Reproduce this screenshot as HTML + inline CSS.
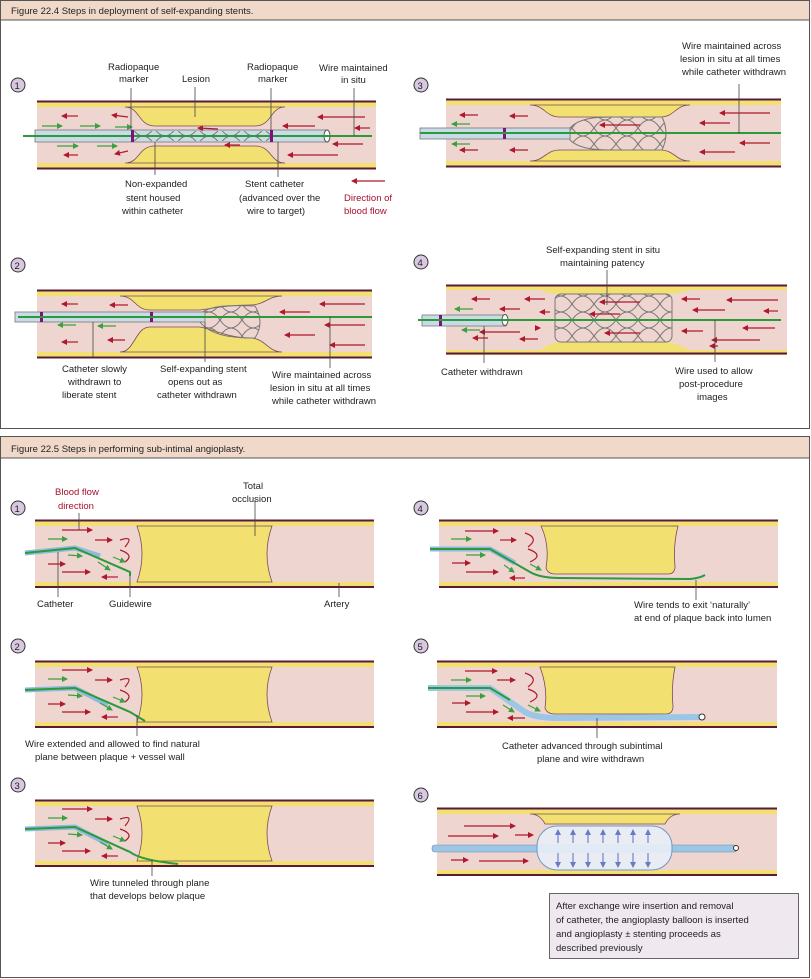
<!DOCTYPE html>
<html><head><meta charset="utf-8"><style>
html,body{margin:0;padding:0;background:#fff}
svg{display:block}
text{font-family:"Liberation Sans",sans-serif;font-size:9.5px;fill:#222}
.r{fill:#a8102c}
</style></head><body>
<svg width="811" height="979" viewBox="0 0 811 979" xmlns="http://www.w3.org/2000/svg">
<defs>
<marker id="ar" markerWidth="6" markerHeight="6" refX="5" refY="3" orient="auto" markerUnits="userSpaceOnUse"><path d="M0,0 L6,3 L0,6 Z" fill="#b0182c"/></marker>
<marker id="ag" markerWidth="6" markerHeight="6" refX="5" refY="3" orient="auto" markerUnits="userSpaceOnUse"><path d="M0,0 L6,3 L0,6 Z" fill="#3aa040"/></marker>
<marker id="ab" markerWidth="6" markerHeight="6" refX="5" refY="3" orient="auto" markerUnits="userSpaceOnUse"><path d="M0,0 L6,3 L0,6 Z" fill="#6a7ac8"/></marker>
<pattern id="mesh" width="22" height="16" patternUnits="userSpaceOnUse"><path d="M0,0 Q11,16 22,0 M0,16 Q11,0 22,16" fill="none" stroke="#777" stroke-width="1"/></pattern>
</defs>

<!-- Figure 22.4 frame -->
<rect x="0.5" y="0.5" width="809" height="428" fill="#fff" stroke="#555"/>
<rect x="1" y="1" width="808" height="19" fill="#f1d9c9"/>
<line x1="0" y1="20" x2="810" y2="20" stroke="#555"/>
<text x="11" y="14" font-size="10.5">Figure 22.4   Steps in deployment of self-expanding stents.</text>

<!-- generic vessel: outer lines + yellow + pink -->
<!-- Panel 1 -->
<g>
<circle cx="18" cy="85" r="7" fill="#d8c8e0" stroke="#333"/><text x="14.5" y="89" font-size="10">1</text>
<rect x="37" y="101" width="339" height="68" fill="#f2e070"/>
<rect x="37" y="107" width="339" height="56" fill="#efd5d0"/>
<line x1="37" y1="101.5" x2="376" y2="101.5" stroke="#5a1a3a" stroke-width="2"/>
<line x1="37" y1="168.5" x2="376" y2="168.5" stroke="#5a1a3a" stroke-width="2"/>
<path d="M125,107 C140,107 138,126 155,126 L255,126 C272,126 270,107 285,107 Z" fill="#f2e070" stroke="#7a4a5a" stroke-width=".8"/>
<path d="M125,163 C140,163 138,146 155,146 L255,146 C272,146 270,163 285,163 Z" fill="#f2e070" stroke="#7a4a5a" stroke-width=".8"/>
<rect x="35" y="130" width="293" height="12" fill="#c9dbe6" stroke="#777" stroke-width=".8"/>
<rect x="133" y="131" width="138" height="10" fill="url(#mesh)"/>
<ellipse cx="327" cy="136" rx="3" ry="6" fill="#fff" stroke="#555"/>
<line x1="23" y1="136" x2="372" y2="136" stroke="#2a9a3a" stroke-width="2"/>
<rect x="131" y="130" width="3" height="12" fill="#80107a"/><rect x="270" y="130" width="3" height="12" fill="#80107a"/>
<g stroke="#b0182c" stroke-width="1.2" marker-end="url(#ar)">
<line x1="78" y1="116" x2="62" y2="116"/><line x1="128" y1="117" x2="112" y2="115"/><line x1="78" y1="155" x2="64" y2="155"/><line x1="128" y1="151" x2="115" y2="154"/>
<line x1="218" y1="129" x2="198" y2="128"/><line x1="240" y1="145" x2="225" y2="145"/>
<line x1="315" y1="126" x2="283" y2="126"/><line x1="365" y1="117" x2="318" y2="117"/><line x1="370" y1="128" x2="355" y2="128"/><line x1="363" y1="144" x2="333" y2="144"/><line x1="338" y1="155" x2="288" y2="155"/>
</g>
<g stroke="#3aa040" stroke-width="1.2" marker-end="url(#ag)">
<line x1="42" y1="126" x2="62" y2="126"/><line x1="80" y1="126" x2="100" y2="126"/><line x1="115" y1="127" x2="132" y2="127"/><line x1="57" y1="146" x2="78" y2="146"/><line x1="97" y1="146" x2="117" y2="146"/>
</g>
<g stroke="#444" stroke-width=".8"><line x1="131" y1="88" x2="131" y2="130"/><line x1="195" y1="87" x2="195" y2="117"/><line x1="271" y1="88" x2="271" y2="130"/><line x1="354" y1="88" x2="354" y2="136"/><line x1="155" y1="142" x2="155" y2="175"/><line x1="278" y1="142" x2="278" y2="177"/></g>
<text x="108" y="70">Radiopaque</text><text x="119" y="82">marker</text>
<text x="182" y="82">Lesion</text>
<text x="247" y="70">Radiopaque</text><text x="258" y="82">marker</text>
<text x="319" y="71">Wire maintained</text><text x="341" y="83">in situ</text>
<text x="125" y="187">Non-expanded</text><text x="126" y="201">stent housed</text><text x="122" y="214">within catheter</text>
<text x="245" y="187">Stent catheter</text><text x="239" y="201">(advanced over the</text><text x="247" y="214">wire to target)</text>
<line x1="385" y1="181" x2="352" y2="181" stroke="#b0182c" stroke-width="1.2" marker-end="url(#ar)"/>
<text x="344" y="201" class="r">Direction of</text><text x="344" y="214" class="r">blood flow</text>
</g>

<!-- Panel 3 -->
<g>
<circle cx="421" cy="85" r="7" fill="#d8c8e0" stroke="#333"/><text x="417.5" y="89" font-size="10">3</text>
<rect x="446" y="99" width="335" height="68" fill="#f2e070"/>
<rect x="446" y="105" width="335" height="56" fill="#efd5d0"/>
<line x1="446" y1="99.5" x2="781" y2="99.5" stroke="#5a1a3a" stroke-width="2"/>
<line x1="446" y1="166.5" x2="781" y2="166.5" stroke="#5a1a3a" stroke-width="2"/>
<path d="M530,105 C545,105 545,117 560,117 L660,117 C675,117 675,105 690,105 Z" fill="#f2e070" stroke="#7a4a5a" stroke-width=".8"/>
<path d="M530,161 C545,161 545,150 560,150 L660,150 C675,150 675,161 690,161 Z" fill="#f2e070" stroke="#7a4a5a" stroke-width=".8"/>
<path d="M570,128 C580,117 600,117 615,117 L662,117 Q670,133 662,150 L615,150 C600,150 580,150 570,140 Z" fill="url(#mesh)" stroke="#777"/>
<rect x="420" y="128" width="150" height="11" fill="#c9dbe6" stroke="#777" stroke-width=".8"/>
<rect x="503" y="128" width="3" height="11" fill="#80107a"/>
<line x1="420" y1="133" x2="781" y2="133" stroke="#2a9a3a" stroke-width="2"/>
<g stroke="#b0182c" stroke-width="1.2" marker-end="url(#ar)">
<line x1="478" y1="115" x2="460" y2="115"/><line x1="528" y1="116" x2="510" y2="116"/><line x1="478" y1="150" x2="460" y2="150"/><line x1="528" y1="150" x2="510" y2="150"/>
<line x1="770" y1="113" x2="720" y2="113"/><line x1="730" y1="123" x2="700" y2="123"/><line x1="770" y1="143" x2="740" y2="143"/><line x1="735" y1="152" x2="700" y2="152"/><line x1="640" y1="125" x2="600" y2="125"/>
</g>
<g stroke="#3aa040" stroke-width="1.2" marker-end="url(#ag)"><line x1="470" y1="124" x2="452" y2="124"/><line x1="470" y1="144" x2="452" y2="144"/></g>
<line x1="739" y1="84" x2="739" y2="133" stroke="#444" stroke-width=".8"/>
<text x="682" y="49">Wire maintained across</text><text x="680" y="62">lesion in situ at all times</text><text x="682" y="75">while catheter withdrawn</text>
</g>

<!-- Panel 2 -->
<g>
<circle cx="18" cy="265" r="7" fill="#d8c8e0" stroke="#333"/><text x="14.5" y="269" font-size="10">2</text>
<rect x="37" y="290" width="335" height="68" fill="#f2e070"/>
<rect x="37" y="296" width="335" height="56" fill="#efd5d0"/>
<line x1="37" y1="290.5" x2="372" y2="290.5" stroke="#5a1a3a" stroke-width="2"/>
<line x1="37" y1="357.5" x2="372" y2="357.5" stroke="#5a1a3a" stroke-width="2"/>
<path d="M120,296 C135,296 135,310 150,310 L200,310 C215,308 230,305 250,305 C265,305 268,296 282,296 Z" fill="#f2e070" stroke="#7a4a5a" stroke-width=".8"/>
<path d="M120,352 C135,352 135,327 150,327 L200,327 C215,330 230,338 250,338 C265,338 268,352 282,352 Z" fill="#f2e070" stroke="#7a4a5a" stroke-width=".8"/>
<path d="M200,314 C210,305 230,305 255,306 Q265,322 255,338 C230,338 210,335 200,322 Z" fill="url(#mesh)" stroke="#777"/>
<rect x="15" y="312" width="190" height="10" fill="#c9dbe6" stroke="#777" stroke-width=".8"/>
<rect x="40" y="312" width="3" height="10" fill="#80107a"/><rect x="150" y="312" width="3" height="10" fill="#80107a"/>
<line x1="18" y1="317" x2="372" y2="317" stroke="#2a9a3a" stroke-width="2"/>
<g stroke="#b0182c" stroke-width="1.2" marker-end="url(#ar)">
<line x1="78" y1="304" x2="62" y2="304"/><line x1="128" y1="305" x2="110" y2="305"/><line x1="78" y1="342" x2="62" y2="342"/><line x1="125" y1="340" x2="108" y2="340"/>
<line x1="365" y1="304" x2="320" y2="304"/><line x1="310" y1="312" x2="280" y2="312"/><line x1="365" y1="325" x2="325" y2="325"/><line x1="315" y1="335" x2="285" y2="335"/><line x1="365" y1="345" x2="330" y2="345"/>
</g>
<g stroke="#3aa040" stroke-width="1.2" marker-end="url(#ag)"><line x1="76" y1="325" x2="58" y2="325"/><line x1="116" y1="326" x2="98" y2="326"/></g>
<g stroke="#444" stroke-width=".8"><line x1="93" y1="322" x2="93" y2="358"/><line x1="205" y1="322" x2="205" y2="362"/><line x1="330" y1="317" x2="330" y2="368"/></g>
<text x="62" y="372">Catheter slowly</text><text x="68" y="385">withdrawn to</text><text x="62" y="398">liberate stent</text>
<text x="160" y="372">Self-expanding stent</text><text x="168" y="385">opens out as</text><text x="157" y="398">catheter withdrawn</text>
<text x="272" y="378">Wire maintained across</text><text x="270" y="391">lesion in situ at all times</text><text x="272" y="404">while catheter withdrawn</text>
</g>

<!-- Panel 4 -->
<g>
<circle cx="421" cy="262" r="7" fill="#d8c8e0" stroke="#333"/><text x="417.5" y="266" font-size="10">4</text>
<rect x="446" y="285" width="341" height="70" fill="#f2e070"/>
<rect x="446" y="290" width="341" height="60" fill="#efd5d0"/>
<line x1="446" y1="285.5" x2="787" y2="285.5" stroke="#5a1a3a" stroke-width="2"/>
<line x1="446" y1="353.5" x2="787" y2="353.5" stroke="#5a1a3a" stroke-width="2"/>
<path d="M540,290 Q550,294 560,294 L665,294 Q676,294 690,290 Z" fill="#f2e070"/>
<path d="M540,350 Q550,343 560,342 L665,342 Q676,343 690,350 Z" fill="#f2e070"/>
<rect x="555" y="294" width="117" height="48" rx="6" fill="url(#mesh)" stroke="#777"/>
<rect x="422" y="315" width="84" height="11" fill="#c9dbe6" stroke="#777" stroke-width=".8"/>
<rect x="439" y="315" width="3" height="11" fill="#80107a"/>
<ellipse cx="505" cy="320" rx="3" ry="5.5" fill="#fff" stroke="#555"/>
<line x1="418" y1="320" x2="781" y2="320" stroke="#2a9a3a" stroke-width="2"/>
<g stroke="#b0182c" stroke-width="1.2" marker-end="url(#ar)">
<line x1="490" y1="299" x2="472" y2="299"/><line x1="545" y1="299" x2="525" y2="299"/><line x1="520" y1="309" x2="500" y2="309"/><line x1="550" y1="312" x2="540" y2="312"/><line x1="520" y1="332" x2="480" y2="332"/><line x1="538" y1="328" x2="540" y2="328"/><line x1="488" y1="338" x2="473" y2="338"/><line x1="538" y1="339" x2="520" y2="339"/>
<line x1="640" y1="302" x2="600" y2="302"/><line x1="620" y1="314" x2="590" y2="314"/><line x1="640" y1="333" x2="605" y2="333"/>
<line x1="700" y1="299" x2="682" y2="299"/><line x1="778" y1="300" x2="727" y2="300"/><line x1="725" y1="310" x2="693" y2="310"/><line x1="778" y1="311" x2="764" y2="311"/><line x1="775" y1="328" x2="743" y2="328"/><line x1="703" y1="331" x2="682" y2="331"/><line x1="760" y1="340" x2="712" y2="340"/><line x1="718" y1="346" x2="710" y2="346"/>
</g>
<g stroke="#3aa040" stroke-width="1.2" marker-end="url(#ag)"><line x1="473" y1="309" x2="455" y2="309"/><line x1="480" y1="330" x2="462" y2="330"/></g>
<g stroke="#444" stroke-width=".8"><line x1="607" y1="270" x2="607" y2="305"/><line x1="484" y1="326" x2="484" y2="363"/><line x1="715" y1="320" x2="715" y2="362"/></g>
<text x="546" y="253">Self-expanding stent in situ</text><text x="560" y="266">maintaining  patency</text>
<text x="441" y="375">Catheter withdrawn</text>
<text x="675" y="374">Wire used to allow</text><text x="679" y="387">post-procedure</text><text x="697" y="400">images</text>
</g>

<!-- Figure 22.5 frame -->
<rect x="0.5" y="436.5" width="809" height="541" fill="#fff" stroke="#555"/>
<rect x="1" y="437" width="808" height="21" fill="#f1d9c9"/>
<line x1="0" y1="458" x2="810" y2="458" stroke="#555"/>
<text x="11" y="452" font-size="10.5">Figure 22.5   Steps in performing sub-intimal angioplasty.</text>

<!-- helper vessels for 22.5 -->
<g id="v1">
<rect x="35" y="520" width="339" height="68" fill="#f2e070"/>
<rect x="35" y="526" width="339" height="56" fill="#efd5d0"/>
<line x1="35" y1="520.5" x2="374" y2="520.5" stroke="#5a1a3a" stroke-width="2"/>
<line x1="35" y1="587" x2="374" y2="587" stroke="#5a1a3a" stroke-width="2"/>
<path d="M137,526 Q147,554 137,582 L272,582 Q262,554 272,526 Z" fill="#f2e070" stroke="#7a4a5a" stroke-width=".8"/>
</g>
<g>
<circle cx="18" cy="508" r="7" fill="#d8c8e0" stroke="#333"/><text x="14.5" y="512" font-size="10">1</text>
<path d="M25,553 L75,548 L100,556" fill="none" stroke="#8fb9de" stroke-width="5"/>
<path d="M25,553 L75,548 L130,572 L130,576" fill="none" stroke="#2a9a3a" stroke-width="2"/>
<g stroke="#b0182c" stroke-width="1.2" marker-end="url(#ar)"><line x1="62" y1="530" x2="92" y2="530"/><line x1="95" y1="540" x2="112" y2="540"/><line x1="48" y1="564" x2="65" y2="564"/><line x1="62" y1="572" x2="90" y2="572"/><line x1="118" y1="577" x2="102" y2="577"/></g>
<path d="M120,540 Q135,535 125,547 M120,550 Q135,555 125,562" fill="none" stroke="#b0182c" stroke-width="1.2"/>
<g stroke="#3aa040" stroke-width="1.2" marker-end="url(#ag)"><line x1="48" y1="539" x2="67" y2="539"/><line x1="68" y1="555" x2="82" y2="556"/><line x1="98" y1="562" x2="110" y2="570"/><line x1="113" y1="557" x2="125" y2="562"/></g>
<g stroke="#444" stroke-width=".8"><line x1="79" y1="513" x2="79" y2="530"/><line x1="58" y1="552" x2="58" y2="597"/><line x1="130" y1="576" x2="130" y2="597"/><line x1="255" y1="500" x2="255" y2="536"/><line x1="339" y1="583" x2="339" y2="597"/></g>
<text x="55" y="495" class="r" font-size="10.5">Blood flow</text><text x="58" y="509" class="r" font-size="10.5">direction</text>
<text x="243" y="489">Total</text><text x="232" y="502">occlusion</text>
<text x="37" y="607">Catheter</text><text x="109" y="607">Guidewire</text><text x="324" y="607">Artery</text>
</g>

<!-- Panel 2 -->
<g>
<circle cx="18" cy="646" r="7" fill="#d8c8e0" stroke="#333"/><text x="14.5" y="650" font-size="10">2</text>
<rect x="35" y="661" width="339" height="67" fill="#f2e070"/>
<rect x="35" y="667" width="339" height="55" fill="#efd5d0"/>
<line x1="35" y1="661.5" x2="374" y2="661.5" stroke="#5a1a3a" stroke-width="2"/>
<line x1="35" y1="727" x2="374" y2="727" stroke="#5a1a3a" stroke-width="2"/>
<path d="M137,667 Q147,694 137,722 L272,722 Q262,694 272,667 Z" fill="#f2e070" stroke="#7a4a5a" stroke-width=".8"/>
<path d="M25,690 L75,688 L108,705" fill="none" stroke="#8fb9de" stroke-width="5"/>
<path d="M25,690 L75,688 L130,712 L145,721" fill="none" stroke="#2a9a3a" stroke-width="2"/>
<g stroke="#b0182c" stroke-width="1.2" marker-end="url(#ar)"><line x1="62" y1="670" x2="92" y2="670"/><line x1="95" y1="680" x2="112" y2="680"/><line x1="48" y1="704" x2="65" y2="704"/><line x1="62" y1="712" x2="90" y2="712"/><line x1="118" y1="717" x2="102" y2="717"/></g>
<path d="M120,680 Q135,675 125,687 M120,690 Q135,695 125,702" fill="none" stroke="#b0182c" stroke-width="1.2"/>
<g stroke="#3aa040" stroke-width="1.2" marker-end="url(#ag)"><line x1="48" y1="679" x2="67" y2="679"/><line x1="68" y1="695" x2="82" y2="696"/><line x1="100" y1="703" x2="112" y2="710"/><line x1="113" y1="697" x2="125" y2="702"/></g>
<line x1="137" y1="715" x2="137" y2="736" stroke="#444" stroke-width=".8"/>
<text x="25" y="747">Wire extended and allowed to find natural</text><text x="35" y="760">plane between plaque + vessel wall</text>
</g>

<!-- Panel 3 -->
<g>
<circle cx="18" cy="785" r="7" fill="#d8c8e0" stroke="#333"/><text x="14.5" y="789" font-size="10">3</text>
<rect x="35" y="800" width="339" height="67" fill="#f2e070"/>
<rect x="35" y="806" width="339" height="55" fill="#efd5d0"/>
<line x1="35" y1="800.5" x2="374" y2="800.5" stroke="#5a1a3a" stroke-width="2"/>
<line x1="35" y1="866" x2="374" y2="866" stroke="#5a1a3a" stroke-width="2"/>
<path d="M137,806 Q147,833 137,861 L272,861 Q262,833 272,806 Z" fill="#f2e070" stroke="#7a4a5a" stroke-width=".8"/>
<path d="M25,829 L75,827 L108,844" fill="none" stroke="#8fb9de" stroke-width="5"/>
<path d="M25,829 L75,827 L130,852 Q140,860 178,864" fill="none" stroke="#2a9a3a" stroke-width="2"/>
<g stroke="#b0182c" stroke-width="1.2" marker-end="url(#ar)"><line x1="62" y1="809" x2="92" y2="809"/><line x1="95" y1="819" x2="112" y2="819"/><line x1="48" y1="843" x2="65" y2="843"/><line x1="62" y1="851" x2="90" y2="851"/><line x1="118" y1="856" x2="102" y2="856"/></g>
<path d="M120,819 Q135,814 125,826 M120,829 Q135,834 125,841" fill="none" stroke="#b0182c" stroke-width="1.2"/>
<g stroke="#3aa040" stroke-width="1.2" marker-end="url(#ag)"><line x1="48" y1="818" x2="67" y2="818"/><line x1="68" y1="834" x2="82" y2="835"/><line x1="100" y1="842" x2="112" y2="849"/><line x1="113" y1="836" x2="125" y2="841"/></g>
<line x1="152" y1="860" x2="152" y2="876" stroke="#444" stroke-width=".8"/>
<text x="90" y="886">Wire tunneled through plane</text><text x="90" y="899">that develops below plaque</text>
</g>

<!-- Panel 4 right -->
<g>
<circle cx="421" cy="508" r="7" fill="#d8c8e0" stroke="#333"/><text x="417.5" y="512" font-size="10">4</text>
<rect x="439" y="520" width="339" height="68" fill="#f2e070"/>
<rect x="439" y="526" width="339" height="56" fill="#efd5d0"/>
<line x1="439" y1="520.5" x2="778" y2="520.5" stroke="#5a1a3a" stroke-width="2"/>
<line x1="439" y1="587" x2="778" y2="587" stroke="#5a1a3a" stroke-width="2"/>
<path d="M541,526 Q550,545 546,568 Q548,574 555,574 L668,574 Q675,574 675,566 Q673,545 678,526 Z" fill="#f2e070" stroke="#7a4a5a" stroke-width=".8"/>
<path d="M430,549 L490,549 L515,563" fill="none" stroke="#8fb9de" stroke-width="5"/>
<path d="M430,549 L490,549 L530,572 Q540,578 560,578 L690,579 Q700,578 705,575" fill="none" stroke="#2a9a3a" stroke-width="2"/>
<g stroke="#b0182c" stroke-width="1.2" marker-end="url(#ar)"><line x1="465" y1="531" x2="498" y2="531"/><line x1="500" y1="540" x2="516" y2="540"/><line x1="452" y1="563" x2="470" y2="563"/><line x1="466" y1="572" x2="498" y2="572"/><line x1="525" y1="578" x2="510" y2="578"/></g>
<path d="M525,533 Q540,538 528,547 M528,549 Q545,555 530,562" fill="none" stroke="#b0182c" stroke-width="1.2"/>
<g stroke="#3aa040" stroke-width="1.2" marker-end="url(#ag)"><line x1="451" y1="539" x2="471" y2="539"/><line x1="466" y1="555" x2="485" y2="555"/><line x1="504" y1="565" x2="514" y2="572"/><line x1="530" y1="564" x2="541" y2="570"/></g>
<line x1="696" y1="580" x2="696" y2="600" stroke="#444" stroke-width=".8"/>
<text x="634" y="608">Wire tends to exit ‘naturally’</text><text x="634" y="621">at end of plaque back into lumen</text>
</g>

<!-- Panel 5 right -->
<g>
<circle cx="421" cy="646" r="7" fill="#d8c8e0" stroke="#333"/><text x="417.5" y="650" font-size="10">5</text>
<rect x="437" y="661" width="340" height="67" fill="#f2e070"/>
<rect x="437" y="667" width="340" height="55" fill="#efd5d0"/>
<line x1="437" y1="661.5" x2="777" y2="661.5" stroke="#5a1a3a" stroke-width="2"/>
<line x1="437" y1="727" x2="777" y2="727" stroke="#5a1a3a" stroke-width="2"/>
<path d="M540,667 Q548,688 545,708 Q547,714 555,714 L666,714 Q673,714 673,706 Q671,688 675,667 Z" fill="#f2e070" stroke="#7a4a5a" stroke-width=".8"/>
<path d="M428,688 L490,688 L525,712 Q535,718 560,718 L700,717" fill="none" stroke="#9cc6e6" stroke-width="6"/>
<path d="M428,688 L490,688 L510,700" fill="none" stroke="#2a9a3a" stroke-width="2"/>
<circle cx="702" cy="717" r="3" fill="#fff" stroke="#333"/>
<g stroke="#b0182c" stroke-width="1.2" marker-end="url(#ar)"><line x1="465" y1="671" x2="497" y2="671"/><line x1="497" y1="680" x2="515" y2="680"/><line x1="452" y1="703" x2="470" y2="703"/><line x1="466" y1="712" x2="498" y2="712"/><line x1="525" y1="718" x2="508" y2="718"/></g>
<path d="M525,673 Q540,678 528,687 M528,689 Q545,695 530,702" fill="none" stroke="#b0182c" stroke-width="1.2"/>
<g stroke="#3aa040" stroke-width="1.2" marker-end="url(#ag)"><line x1="451" y1="680" x2="471" y2="680"/><line x1="466" y1="696" x2="485" y2="696"/><line x1="503" y1="705" x2="514" y2="712"/><line x1="528" y1="705" x2="540" y2="711"/></g>
<line x1="597" y1="718" x2="597" y2="738" stroke="#444" stroke-width=".8"/>
<text x="502" y="749">Catheter advanced through subintimal</text><text x="537" y="762">plane and wire withdrawn</text>
</g>

<!-- Panel 6 right -->
<g>
<circle cx="421" cy="795" r="7" fill="#d8c8e0" stroke="#333"/><text x="417.5" y="799" font-size="10">6</text>
<rect x="437" y="808" width="340" height="68" fill="#f2e070"/>
<rect x="437" y="814" width="340" height="56" fill="#efd5d0"/>
<line x1="437" y1="808.5" x2="777" y2="808.5" stroke="#5a1a3a" stroke-width="2"/>
<line x1="437" y1="875" x2="777" y2="875" stroke="#5a1a3a" stroke-width="2"/>
<path d="M530,814 Q540,814 545,824 L665,824 Q670,814 680,814 Z" fill="#f2e070" stroke="#7a4a5a" stroke-width=".8"/>
<rect x="432" y="845" width="305" height="7" rx="3" fill="#9cc6e6" stroke="#6a8ab0" stroke-width=".6"/>
<circle cx="736" cy="848" r="2.5" fill="#fff" stroke="#333"/>
<rect x="537" y="826" width="135" height="44" rx="20" fill="#e8eef6" fill-opacity=".9" stroke="#6a9ac8"/>
<g stroke="#6a7ac8" stroke-width="1.1" marker-end="url(#ab)">
<line x1="558" y1="843" x2="558" y2="830"/><line x1="573" y1="843" x2="573" y2="830"/><line x1="588" y1="843" x2="588" y2="830"/><line x1="603" y1="843" x2="603" y2="830"/><line x1="618" y1="843" x2="618" y2="830"/><line x1="633" y1="843" x2="633" y2="830"/><line x1="648" y1="843" x2="648" y2="830"/>
<line x1="558" y1="853" x2="558" y2="867"/><line x1="573" y1="853" x2="573" y2="867"/><line x1="588" y1="853" x2="588" y2="867"/><line x1="603" y1="853" x2="603" y2="867"/><line x1="618" y1="853" x2="618" y2="867"/><line x1="633" y1="853" x2="633" y2="867"/><line x1="648" y1="853" x2="648" y2="867"/>
</g>
<g stroke="#b0182c" stroke-width="1.2" marker-end="url(#ar)"><line x1="464" y1="826" x2="515" y2="826"/><line x1="448" y1="836" x2="498" y2="836"/><line x1="515" y1="835" x2="533" y2="835"/><line x1="451" y1="860" x2="468" y2="860"/><line x1="479" y1="861" x2="528" y2="861"/></g>
<rect x="549.5" y="893.5" width="249" height="65" fill="#efe8ef" stroke="#666"/>
<text x="556" y="909">After exchange wire insertion and removal</text>
<text x="556" y="923">of catheter, the angioplasty balloon is inserted</text>
<text x="556" y="937">and angioplasty ± stenting proceeds as</text>
<text x="556" y="951">described previously</text>
</g>
</svg>
</body></html>
